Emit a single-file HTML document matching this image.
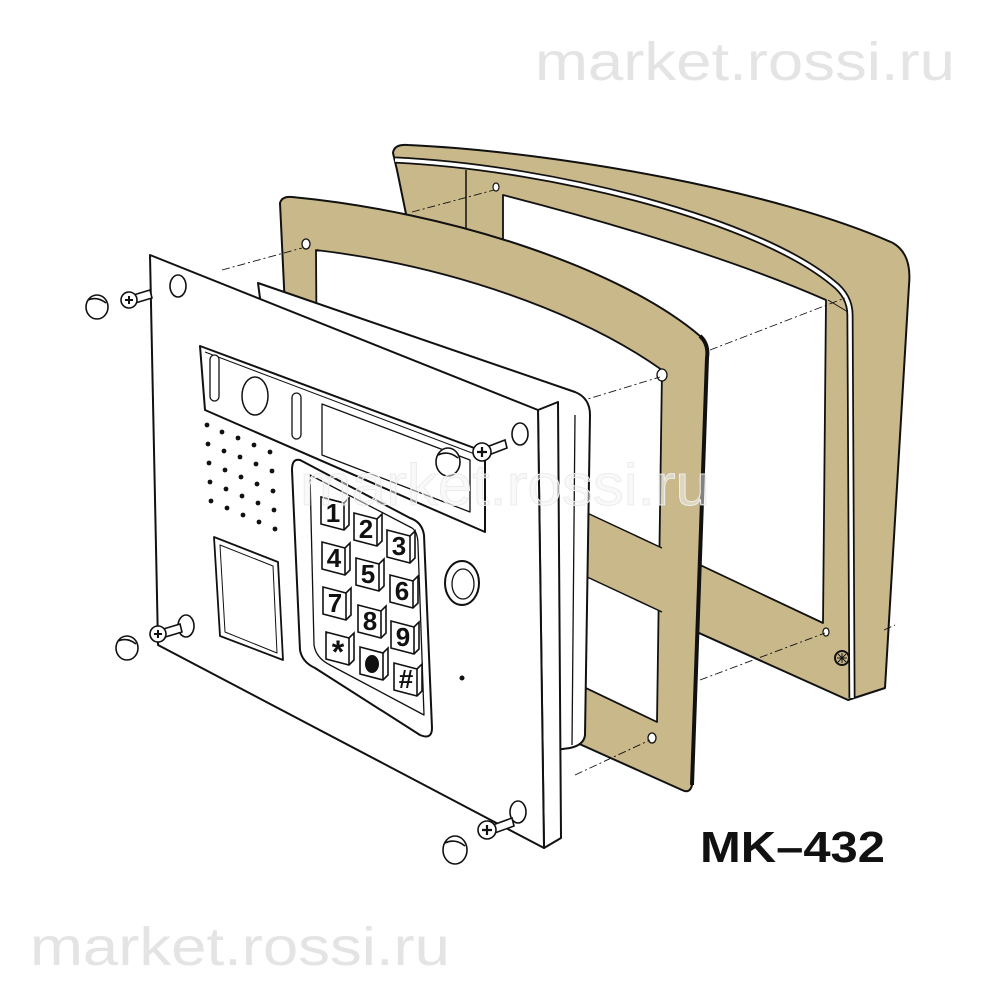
<!DOCTYPE html>
<html><head><meta charset="utf-8"><style>
html,body{margin:0;padding:0;background:#fff;}
svg{display:block;}
</style></head><body>
<svg width="1000" height="1000" viewBox="0 0 1000 1000" xmlns="http://www.w3.org/2000/svg" font-family="Liberation Sans, sans-serif">
<rect width="1000" height="1000" fill="#fff"/>
<text x="535" y="80" font-size="54" fill="#e4e4e4" textLength="420" lengthAdjust="spacingAndGlyphs">market.rossi.ru</text>
<text x="30" y="965" font-size="54" fill="#e4e4e4" textLength="420" lengthAdjust="spacingAndGlyphs">market.rossi.ru</text>

<g stroke="#111" stroke-width="2" stroke-linejoin="round">
<!-- hood -->
<path d="M393,153 Q394,144 408,145 C560,152 780,192 893,243 Q912,254 909,285 L885,688 L848,700 L470,530 L440,380 L397,170 Z" fill="#c9b88a"/>
<path d="M503,195 C620,225 740,262 826,300 L823,623 L503,472 Z" fill="#fff" stroke-width="1.8"/>
<path d="M395,160 C560,168 760,222 833,283 Q850,296 850,315 L852,698" fill="none" stroke="#111" stroke-width="7"/>
<path d="M395,160 C560,168 760,222 833,283 Q850,296 850,315 L852,698" fill="none" stroke="#fff" stroke-width="3.5"/>
<line x1="466" y1="170" x2="466" y2="470" stroke-width="1.5"/>
<line x1="828" y1="300" x2="848" y2="312" stroke-width="1"/>
<ellipse cx="496" cy="187" rx="3" ry="4" fill="#fff" stroke-width="1.2"/>
<ellipse cx="826" cy="632" rx="3" ry="4" fill="#fff" stroke-width="1.2"/>
<circle cx="842" cy="658" r="7" fill="#c9b88a"/>
<path d="M837,658 h10 M842,653 v10 M838,654 l8,8 M846,654 l-8,8" stroke-width="1"/>

<!-- frame -->
<path d="M280,203 Q282,196 292,197 C450,212 620,268 700,336 Q709,344 707,358 L692,785 Q690,794 682,790 L575,742 L300,620 Z" fill="#c9b88a"/>
<path d="M700,336 Q709,344 707,358 L692,785" fill="none" stroke-width="4"/>
<path d="M316,250 C450,266 580,312 662,370 L657,722 L318,560 Z" fill="#fff" stroke-width="1.8"/>
<path d="M585,512 L662,548 L662,612 L585,576 Z" fill="#c9b88a" stroke="none"/>
<line x1="585" y1="512" x2="662" y2="548" stroke-width="1.5"/>
<line x1="585" y1="576" x2="662" y2="612" stroke-width="1.5"/>
<ellipse cx="306" cy="244" rx="4" ry="5" fill="#fff" stroke-width="1.3"/>
<ellipse cx="662" cy="375" rx="5" ry="6" fill="#fff" stroke-width="1.3"/>
<ellipse cx="652" cy="738" rx="4" ry="5" fill="#fff" stroke-width="1.3"/>

<g stroke-width="0.9" stroke-dasharray="8,3,2,3" fill="none">
<line x1="222" y1="270" x2="302" y2="248"/>
<line x1="412" y1="212" x2="494" y2="190"/>
<line x1="578" y1="402" x2="660" y2="377"/>
<line x1="710" y1="350" x2="845" y2="298"/>
<line x1="700" y1="680" x2="825" y2="633"/>
<line x1="575" y1="775" x2="650" y2="740"/>
<line x1="884" y1="630" x2="895" y2="625"/>
</g>

<!-- back box -->
<path d="M258,283 L575,392 Q590,398 590,415 L585,735 Q584,745 570,748 L555,750 L300,600 Z" fill="#fff"/>
<line x1="575" y1="415" x2="572" y2="745" stroke-width="1.3"/>

<!-- panel -->
<path d="M538,410 L558,402 L561,838 L544,848 Z" fill="#fff"/>
<path d="M150,255 L538,410 L544,848 L158,645 Z" fill="#fff"/>
<ellipse cx="178" cy="286" rx="8" ry="11" fill="#fff" stroke-width="1.6"/>
<ellipse cx="520" cy="434" rx="8" ry="11" fill="#fff" stroke-width="1.6"/>
<ellipse cx="186" cy="626" rx="8" ry="11" fill="#fff" stroke-width="1.6"/>
<ellipse cx="518" cy="812" rx="8" ry="11" fill="#fff" stroke-width="1.6"/>

<path d="M200,346 L485,452 L485,532 L205,410 Z" fill="#fff" stroke-width="2"/>
<path d="M205,352 L480,456" fill="none" stroke-width="1"/>
<rect x="210" y="355" width="9" height="46" rx="4.5" fill="#fff" stroke-width="1.3"/>
<ellipse cx="255" cy="396" rx="13" ry="19" fill="#fff" stroke-width="1.5"/>
<rect x="292" y="393" width="9" height="46" rx="4.5" fill="#fff" stroke-width="1.3"/>
<path d="M322,404 L470,460 L470,512 L322,455 Z" fill="#fff" stroke-width="1.3"/>

<path d="M214,537 L278,562 L283,660 L220,636 Z" fill="#fff" stroke-width="1.8"/>
<path d="M220,545 L273,566 L277,653 L225,632 Z" fill="none" stroke-width="1"/>

<path d="M300,460 Q292,458 292,470 L300,650 Q302,662 315,668 L420,735 Q432,740 432,728 L424,535 Q422,522 410,518 Z" fill="#fff" stroke-width="2"/>
<path d="M310,475 L412,528 Q418,532 418,545 L424,715 L330,665 Q316,658 314,645 Z" fill="#fff" stroke-width="1.3"/>

<ellipse cx="462" cy="583" rx="17" ry="22" fill="#fff" stroke-width="2"/>
<ellipse cx="463" cy="584" rx="11" ry="15" fill="#fff" stroke-width="1.3"/>
<circle cx="462" cy="678" r="2.5" fill="#111" stroke="none"/>
</g>

<g fill="#111">
<circle cx="207" cy="425" r="2.4"/><circle cx="222" cy="432" r="2.4"/><circle cx="238" cy="438" r="2.4"/><circle cx="254" cy="445" r="2.4"/><circle cx="270" cy="452" r="2.4"/>
<circle cx="208" cy="444" r="2.4"/><circle cx="224" cy="451" r="2.4"/><circle cx="240" cy="457" r="2.4"/><circle cx="256" cy="464" r="2.4"/><circle cx="272" cy="471" r="2.4"/>
<circle cx="209" cy="463" r="2.4"/><circle cx="225" cy="470" r="2.4"/><circle cx="241" cy="477" r="2.4"/><circle cx="257" cy="484" r="2.4"/><circle cx="273" cy="491" r="2.4"/>
<circle cx="210" cy="482" r="2.4"/><circle cx="226" cy="489" r="2.4"/><circle cx="242" cy="496" r="2.4"/><circle cx="258" cy="503" r="2.4"/><circle cx="274" cy="510" r="2.4"/>
<circle cx="211" cy="501" r="2.4"/><circle cx="227" cy="508" r="2.4"/><circle cx="243" cy="515" r="2.4"/><circle cx="259" cy="522" r="2.4"/><circle cx="275" cy="529" r="2.4"/>
</g>

<g stroke="#111" stroke-width="1.6" font-weight="bold" font-size="26" text-anchor="middle">
<g transform="translate(335,512)"><path d="M-14,-15 L9,-9 L14,-14 L14,13 L9,18 L-14,12 Z" fill="#fff"/><path d="M9,-9 L9,18 M9,-9 L-14,-15" fill="none"/><text x="-2" y="10" stroke="none" fill="#111">1</text></g>
<g transform="translate(368,528)"><path d="M-14,-15 L9,-9 L14,-14 L14,13 L9,18 L-14,12 Z" fill="#fff"/><path d="M9,-9 L9,18" fill="none"/><text x="-2" y="10" stroke="none" fill="#111">2</text></g>
<g transform="translate(401,545)"><path d="M-14,-15 L9,-9 L14,-14 L14,13 L9,18 L-14,12 Z" fill="#fff"/><path d="M9,-9 L9,18" fill="none"/><text x="-2" y="10" stroke="none" fill="#111">3</text></g>
<g transform="translate(336,557)"><path d="M-14,-15 L9,-9 L14,-14 L14,13 L9,18 L-14,12 Z" fill="#fff"/><path d="M9,-9 L9,18" fill="none"/><text x="-2" y="10" stroke="none" fill="#111">4</text></g>
<g transform="translate(370,573)"><path d="M-14,-15 L9,-9 L14,-14 L14,13 L9,18 L-14,12 Z" fill="#fff"/><path d="M9,-9 L9,18" fill="none"/><text x="-2" y="10" stroke="none" fill="#111">5</text></g>
<g transform="translate(404,590)"><path d="M-14,-15 L9,-9 L14,-14 L14,13 L9,18 L-14,12 Z" fill="#fff"/><path d="M9,-9 L9,18" fill="none"/><text x="-2" y="10" stroke="none" fill="#111">6</text></g>
<g transform="translate(337,602)"><path d="M-14,-15 L9,-9 L14,-14 L14,13 L9,18 L-14,12 Z" fill="#fff"/><path d="M9,-9 L9,18" fill="none"/><text x="-2" y="10" stroke="none" fill="#111">7</text></g>
<g transform="translate(372,620)"><path d="M-14,-15 L9,-9 L14,-14 L14,13 L9,18 L-14,12 Z" fill="#fff"/><path d="M9,-9 L9,18" fill="none"/><text x="-2" y="10" stroke="none" fill="#111">8</text></g>
<g transform="translate(405,636)"><path d="M-14,-15 L9,-9 L14,-14 L14,13 L9,18 L-14,12 Z" fill="#fff"/><path d="M9,-9 L9,18" fill="none"/><text x="-2" y="10" stroke="none" fill="#111">9</text></g>
<g transform="translate(340,647)"><path d="M-14,-15 L9,-9 L14,-14 L14,13 L9,18 L-14,12 Z" fill="#fff"/><path d="M9,-9 L9,18" fill="none"/><text x="-2" y="16" stroke="none" fill="#111" font-size="32">*</text></g>
<g transform="translate(374,662)"><path d="M-14,-15 L9,-9 L14,-14 L14,13 L9,18 L-14,12 Z" fill="#fff"/><path d="M9,-9 L9,18" fill="none"/><ellipse cx="-2" cy="2" rx="7" ry="9" fill="#111" stroke="none"/></g>
<g transform="translate(408,678)"><path d="M-14,-15 L9,-9 L14,-14 L14,13 L9,18 L-14,12 Z" fill="#fff"/><path d="M9,-9 L9,18" fill="none"/><text x="-2" y="10" stroke="none" fill="#111">#</text></g>
</g>

<g stroke="#111" stroke-width="1.6" fill="#fff">
<ellipse cx="97" cy="307" rx="11" ry="12"/><path d="M88,300 Q97,296 106,303" fill="none"/>
<path d="M130,296 L150,290 L152,298 L132,304 Z"/><circle cx="129" cy="300" r="8"/><path d="M125,300 h8 M129,296 v8" stroke-width="2"/>
<ellipse cx="127" cy="648" rx="11" ry="12"/><path d="M118,641 Q127,637 136,644" fill="none"/>
<path d="M160,630 L180,624 L182,632 L162,638 Z"/><circle cx="158" cy="634" r="8"/><path d="M154,634 h8 M158,630 v8" stroke-width="2"/>
<ellipse cx="448" cy="462" rx="12" ry="14"/><path d="M438,455 Q448,450 458,458" fill="none"/>
<path d="M484,448 L505,440 L507,448 L486,456 Z"/><circle cx="482" cy="452" r="9"/><path d="M477,452 h10 M482,447 v10" stroke-width="2.2"/>
<ellipse cx="455" cy="850" rx="12" ry="14"/><path d="M445,843 Q455,838 465,846" fill="none"/>
<path d="M490,826 L512,818 L514,826 L492,834 Z"/><circle cx="487" cy="830" r="9"/><path d="M482,830 h10 M487,825 v10" stroke-width="2.2"/>
</g>

<text x="300" y="505" font-size="58" fill="#f4f4f4" fill-opacity="0.5" stroke="#ececec" stroke-width="1" textLength="410" lengthAdjust="spacingAndGlyphs">market.rossi.ru</text>
<text x="700" y="862" font-size="44" font-weight="bold" fill="#111" textLength="185" lengthAdjust="spacingAndGlyphs">MK–432</text>
</svg>
</body></html>
